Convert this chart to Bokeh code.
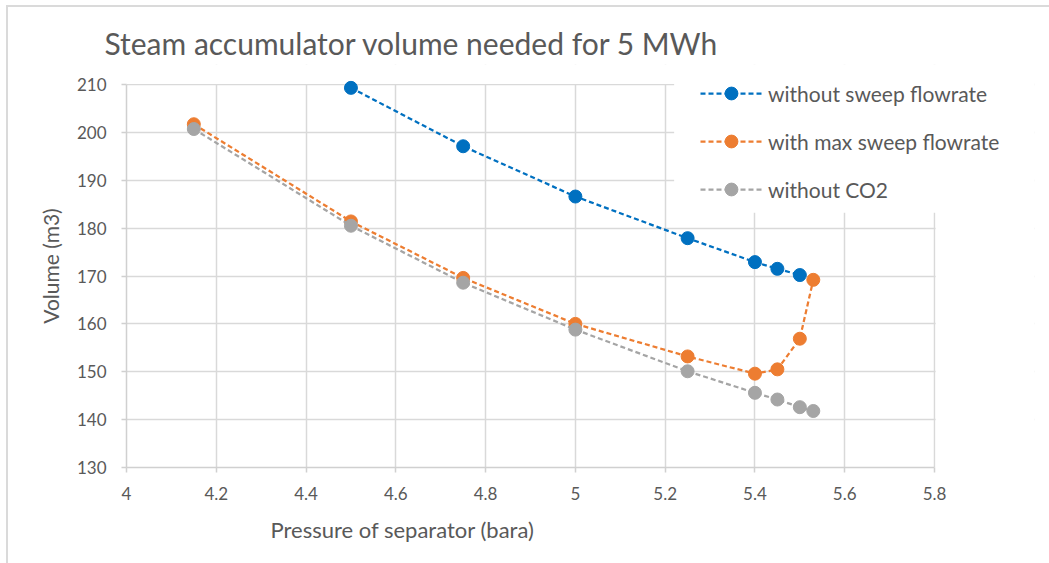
from bokeh.plotting import figure
from bokeh.models import (Range1d, FixedTicker, Legend, LegendItem, Title, BoxAnnotation)
from bokeh.embed import file_html
from bokeh.resources import INLINE

# ---- data ----
x_no_sweep = [4.5, 4.75, 5.0, 5.25, 5.4, 5.45, 5.5]
v_no_sweep = [209.3, 197.1, 186.6, 177.9, 172.9, 171.5, 170.2]
x_max_sweep = [4.15, 4.5, 4.75, 5.0, 5.25, 5.4, 5.45, 5.5, 5.53]
v_max_sweep = [201.7, 181.4, 169.6, 160.0, 153.2, 149.6, 150.5, 156.9, 169.2]
x_no_co2 = [4.15, 4.5, 4.75, 5.0, 5.25, 5.4, 5.45, 5.5, 5.53]
v_no_co2 = [200.7, 180.5, 168.6, 158.8, 150.1, 145.6, 144.2, 142.6, 141.8]

x_ticks = [4.0, 4.2, 4.4, 4.6, 4.8, 5.0, 5.2, 5.4, 5.6, 5.8]
x_tick_labels = ["4", "4.2", "4.4", "4.6", "4.8", "5", "5.2", "5.4", "5.6", "5.8"]
y_ticks = [130, 140, 150, 160, 170, 180, 190, 200, 210]

series_names = ["without sweep flowrate", "with max sweep flowrate", "without CO2"]
series_colors = ["#0070C0", "#ED7D31", "#A5A5A5"]

title_text = "Steam accumulator volume needed for 5 MWh"
x_title = "Pressure of separator (bara)"
y_title = "Volume (m3)"

FONT = "Lato"
TXT = "#595959"

X_MIN, X_MAX = 4.0, 5.8
Y_MIN, Y_MAX = 130, 210
AXIS_PX = 808                      # pixel length of the 4..5.8 axis
EXTRA_PX = 100                     # extra frame room so the legend is not clipped
AXIS_PY = 383                      # pixel length of the 130..210 axis
EXTRA_PY = 20                      # extra room above 210 (markers / legend not clipped)
x_end = X_MIN + (X_MAX - X_MIN) * (AXIS_PX + EXTRA_PX) / AXIS_PX
y_end = Y_MIN + (Y_MAX - Y_MIN) * (AXIS_PY + EXTRA_PY) / AXIS_PY

p = figure(frame_width=AXIS_PX + EXTRA_PX, frame_height=AXIS_PY + EXTRA_PY,
           min_border_left=118, min_border_right=15,
           min_border_top=77 - EXTRA_PY, min_border_bottom=96,
           x_range=Range1d(X_MIN, x_end), y_range=Range1d(Y_MIN, y_end),
           output_backend="svg", toolbar_location=None,
           background_fill_color="white", border_fill_color="white")
p.outline_line_color = None
p.margin = (5, 0, 0, 6)
p.styles = {"border-top": "2px solid #DADADA", "border-left": "2px solid #DADADA"}

# title
p.title.text = title_text
p.title.text_font = FONT
p.title.text_font_size = "30px"
p.title.text_font_style = "normal"
p.title.text_color = TXT
p.title.align = "left"
p.title.offset = -22
p.title.standoff = 8

# axes
for ax in (p.xaxis[0], p.yaxis[0]):
    ax.axis_line_color = "#D0D0D0"
    ax.axis_line_width = 1.5
    ax.major_tick_line_color = "#D0D0D0"
    ax.major_tick_line_width = 1.5
    ax.major_tick_in = 0
    ax.major_tick_out = 5
    ax.minor_tick_line_color = None
    ax.major_label_text_font = FONT
    ax.major_label_text_font_size = "17px"
    ax.major_label_text_color = TXT

p.xaxis.bounds = (X_MIN, X_MAX)
p.xaxis.ticker = FixedTicker(ticks=x_ticks)
p.xaxis.major_label_overrides = {t: l for t, l in zip(x_ticks, x_tick_labels)}
p.xaxis.major_label_standoff = 14
p.yaxis.bounds = (Y_MIN, Y_MAX)
p.yaxis.ticker = FixedTicker(ticks=y_ticks)
p.yaxis.major_label_standoff = 15

p.yaxis.axis_label = y_title
p.yaxis.axis_label_text_font = FONT
p.yaxis.axis_label_text_font_size = "21px"
p.yaxis.axis_label_text_font_style = "normal"
p.yaxis.axis_label_text_color = TXT
p.yaxis.axis_label_standoff = 11

p.xgrid.ticker = FixedTicker(ticks=x_ticks)
p.ygrid.ticker = FixedTicker(ticks=y_ticks)
p.grid.grid_line_color = "#D9D9D9"
p.grid.grid_line_width = 1.5

# x-axis title placed like the original (left of centre)
p.add_layout(Title(text=x_title, align="left", offset=144, standoff=23,
                   text_font=FONT, text_font_size="22px", text_font_style="normal",
                   text_color=TXT), "below")

# white legend backdrop covering the gridlines
p.add_layout(BoxAnnotation(left=5.22, bottom=183.2, fill_color="white", fill_alpha=1.0,
                           line_color=None, level="underlay"))
# hide gridlines beyond the ends of the axes
p.add_layout(BoxAnnotation(left=X_MAX + 0.0025, fill_color="white", fill_alpha=1.0,
                           line_color=None, level="underlay"))
p.add_layout(BoxAnnotation(bottom=Y_MAX + 0.1, fill_color="white", fill_alpha=1.0,
                           line_color=None, level="underlay"))

items = []
for xs, vs, name, col in zip([x_no_sweep, x_max_sweep, x_no_co2],
                             [v_no_sweep, v_max_sweep, v_no_co2],
                             series_names, series_colors):
    r1 = p.line(xs, vs, line_color=col, line_width=2.25, line_dash="5 3")
    r2 = p.scatter(xs, vs, marker="circle", size=13, fill_color=col, line_color=col)
    items.append(LegendItem(label=name, renderers=[r1, r2]))

legend = Legend(items=items, location=(574, 262), orientation="vertical",
                glyph_width=62, glyph_height=32, label_height=32, label_standoff=6,
                spacing=16, padding=0, margin=0,
                label_text_font=FONT, label_text_font_size="21px", label_text_color=TXT,
                background_fill_alpha=0, border_line_color=None)
p.add_layout(legend, "center")

open("out.html", "w").write(file_html(p, INLINE))
